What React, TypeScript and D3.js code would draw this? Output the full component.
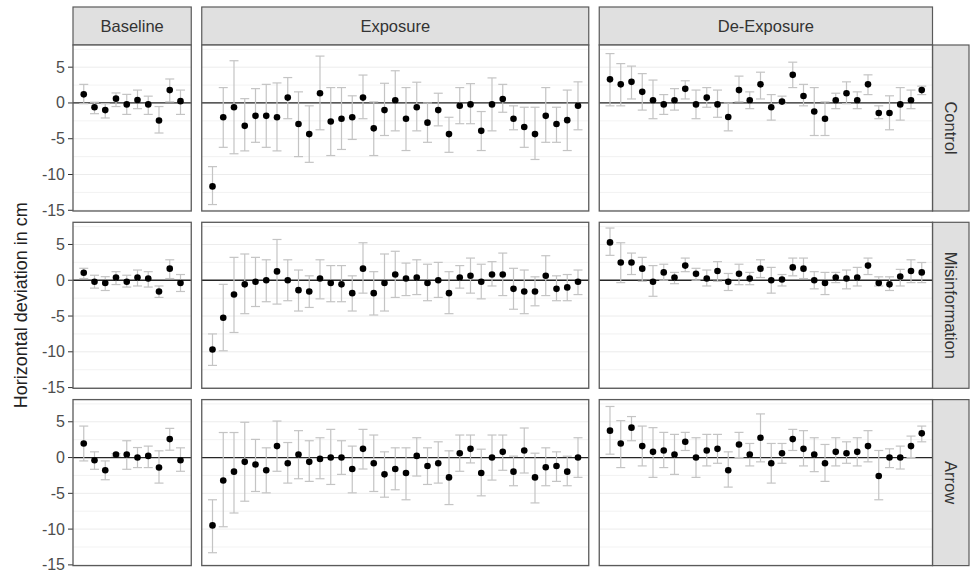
import React from "react";
import * as d3 from "d3";

type Obs = [number, number, number]; // [mean, lower, upper]

const phases = ["Baseline", "Exposure", "De-Exposure"];
const groups = ["Control", "Misinformation", "Arrow"];
const yTicks = [5, 0, -5, -10, -15];
const yGrid = [7.5, 5, 2.5, 0, -2.5, -5, -7.5, -10, -12.5, -15];

const controlBaseline: Obs[] = [
  [1.2, -0.1, 2.6], [-0.6, -1.5, 0.1], [-1.0, -2.1, -0.1], [0.6, -0.5, 1.4], [-0.2, -1.6, 1.2],
  [0.4, -0.8, 1.8], [-0.2, -1.6, 0.95], [-2.45, -4.2, -0.5], [1.8, 0.15, 3.35], [0.25, -1.6, 1.8],
];
const controlExposure: Obs[] = [
  [-11.66, -14.2, -8.9], [-2.0, -6.2, 2.15], [-0.6, -7.1, 5.9], [-3.2, -6.7, 0.6], [-1.8, -5.5, 2.0],
  [-1.8, -6.2, 2.6], [-2.0, -6.7, 2.8], [0.75, -2.2, 3.55], [-2.95, -7.5, 1.55], [-4.35, -8.3, -0.4],
  [1.36, -3.75, 6.55], [-2.6, -7.35, 2.15], [-2.2, -6.5, 2.15], [-2.0, -5.1, 1.0], [0.75, -2.2, 3.9],
  [-3.55, -7.35, 0.15], [-1.0, -4.55, 2.75], [0.37, -3.9, 4.5], [-2.2, -6.65, 2.15], [-0.6, -3.9, 2.9],
  [-2.75, -5.5, 0.0], [-1.0, -3.2, 1.36], [-4.35, -6.9, -2.0], [-0.4, -2.9, 2.15], [-0.2, -2.9, 2.7],
  [-3.9, -6.65, -1.2], [-0.2, -3.9, 3.5], [0.56, -1.3, 2.6], [-2.2, -3.75, -0.4], [-3.37, -6.2, -0.6],
  [-4.35, -7.9, -0.6], [-1.8, -5.5, 2.15], [-2.95, -5.5, -0.6], [-2.4, -6.65, 1.8], [-0.4, -3.75, 2.95],
];
const controlDeExposure: Obs[] = [
  [3.3, -0.4, 6.9], [2.6, -0.4, 5.5], [2.95, 0.56, 5.15], [1.55, -1.0, 4.1], [0.37, -2.2, 3.2],
  [-0.2, -1.6, 1.17], [0.37, -1.0, 2.0], [1.97, 0.56, 3.1], [-0.2, -2.2, 1.8], [0.75, -0.6, 2.15],
  [-0.2, -2.0, 1.8], [-1.97, -3.9, 0.0], [1.8, 0.15, 3.75], [0.37, -0.8, 1.55], [2.6, 0.56, 4.3],
  [-0.6, -2.4, 1.17], [0.19, -0.1, 0.95], [3.93, 2.15, 5.7], [0.98, -0.4, 2.6], [-1.2, -4.55, 2.15],
  [-2.2, -4.55, 0.15], [0.37, -0.8, 1.36], [1.36, -0.1, 2.95], [0.37, -0.8, 1.55], [2.6, 1.17, 3.93],
  [-1.4, -2.2, -0.4], [-1.4, -3.75, 1.0], [-0.2, -2.4, 2.15], [0.37, -0.8, 1.8], [1.8, 1.17, 2.35],
];

const misinfoBaseline: Obs[] = [
  [1.05, 0.24, 1.67], [-0.2, -1.1, 0.7], [-0.38, -1.43, 0.5], [0.38, -0.6, 1.2], [-0.2, -0.95, 0.7],
  [0.38, -0.8, 1.43], [0.24, -0.95, 1.2], [-1.57, -2.4, -0.8], [1.62, 0.24, 2.86], [-0.38, -1.57, 0.8],
];
const misinfoExposure: Obs[] = [
  [-9.67, -11.9, -7.5], [-5.24, -9.86, -0.57], [-2.0, -7.3, 3.2], [-0.57, -4.67, 3.67], [-0.2, -3.67, 3.2],
  [0, -3.0, 2.86], [1.24, -3.33, 5.7], [0, -2.86, 2.86], [-1.38, -4.3, 1.43], [-1.57, -3.8, 0.62],
  [0.24, -2.6, 2.86], [-0.38, -3.0, 2.05], [-0.57, -3.0, 2.05], [-1.8, -4.3, 0.62], [1.62, -1.8, 5.24],
  [-1.8, -4.86, 1.2], [-0.38, -4.3, 3.67], [0.8, -2.4, 4.05], [0.24, -2.14, 2.4], [0.38, -2.0, 2.86],
  [-0.38, -2.86, 2.24], [0, -2.4, 2.5], [-1.8, -4.67, 1.2], [0.38, -1.1, 2.05], [0.62, -1.8, 3.1],
  [-0.2, -2.6, 2.24], [0.8, -0.8, 2.6], [0.8, -2.14, 3.8], [-1.2, -4.05, 1.67], [-1.57, -4.67, 1.43],
  [-1.57, -3.57, 0.48], [0.62, -2.14, 3.43], [-1.2, -2.86, 0.62], [-1.0, -2.86, 0.8], [-0.2, -2.0, 1.43],
];
const misinfoDeExposure: Obs[] = [
  [5.29, 3.48, 7.3], [2.48, -0.33, 5.24], [2.48, 0.8, 3.8], [1.62, -0.14, 3.2], [-0.2, -2.24, 2.05],
  [1.1, 0, 2.24], [0.38, -0.48, 1.1], [2.05, 1.2, 3.1], [0.9, 0, 1.67], [0.24, -0.8, 1.43],
  [1.29, -0.14, 2.6], [-0.2, -1.43, 0.95], [0.9, -0.62, 2.24], [0.24, -0.62, 1.1], [1.62, 0.38, 2.86],
  [0, -1.8, 1.8], [0.1, -0.8, 0.8], [1.8, 0.62, 3.1], [1.62, 0.24, 3.1], [0, -1.2, 1.2],
  [-0.38, -2.0, 1.1], [0.38, -0.33, 1.1], [0.24, -1.2, 1.43], [0.38, -0.8, 1.8], [2.05, 0.8, 3.1],
  [-0.38, -0.8, 0.48], [-0.57, -1.43, 0.48], [0.52, -0.8, 1.52], [1.29, -0.33, 2.86], [1.1, -0.33, 2.48],
];

const arrowBaseline: Obs[] = [
  [1.97, -0.47, 4.4], [-0.38, -1.64, 0.8], [-1.78, -3.1, -0.47], [0.42, 0.19, 0.56], [0.42, -1.64, 2.35],
  [0, -1.4, 1.4], [0.23, -1.4, 1.6], [-1.4, -3.57, 0.94], [2.58, 1.03, 4.08], [-0.38, -1.92, 1.36],
];
const arrowExposure: Obs[] = [
  [-9.48, -13.3, -5.9], [-3.2, -9.67, 3.5], [-1.97, -7.75, 3.5], [-0.6, -6.1, 4.93], [-0.98, -4.74, 2.54],
  [-1.78, -4.93, 1.36], [1.6, -1.92, 5.1], [-0.8, -3.57, 2.1], [0.42, -2.96, 3.76], [-0.6, -3.33, 2.35],
  [-0.19, -2.96, 2.77], [0, -3.76, 3.94], [0, -2.35, 2.35], [-1.6, -4.93, 1.6], [1.22, -1.6, 3.94],
  [-0.8, -4.74, 3.15], [-2.35, -5.54, 0.8], [-1.6, -4.5, 1.36], [-2.16, -5.9, 1.36], [0.23, -2.58, 2.77],
  [-1.17, -3.76, 1.36], [-0.8, -3.57, 2.2], [-2.77, -6.57, 0.94], [0.61, -1.92, 3.15], [1.22, -0.75, 3.15],
  [-2.16, -5.35, 1.17], [0, -3.15, 3.15], [0.8, -1.78, 3.15], [-1.97, -3.94, 0.2], [0.99, -2.16, 4.13],
  [-2.77, -6.34, 0.61], [-1.36, -3.94, 1.36], [-1.17, -3.33, 0.8], [-1.97, -3.94, 0.19], [0, -2.77, 2.77],
];
const arrowDeExposure: Obs[] = [
  [3.76, 0.47, 7.14], [1.97, -1.4, 5.16], [4.18, 2.35, 5.73], [1.6, -1.17, 4.4], [0.8, -2.77, 4.18],
  [0.99, -1.4, 3.52], [0.42, -2.35, 3.24], [2.2, 0.99, 3.52], [0, -2.77, 2.77], [0.99, -1.17, 3.24],
  [1.22, -0.8, 3.24], [-1.78, -4.13, 0.8], [1.83, 0, 3.52], [0.42, -1.17, 1.97], [2.77, -0.6, 6.1],
  [-0.8, -3.57, 1.97], [0.61, -0.8, 1.97], [2.58, 0.99, 3.94], [1.22, -1.17, 3.76], [0.42, -1.97, 2.77],
  [-0.8, -3.33, 1.83], [0.8, -1.17, 2.77], [0.61, -0.8, 2.2], [0.8, -1.17, 2.77], [1.6, -0.6, 3.76],
  [-2.58, -5.9, 0.99], [0, -1.4, 1.22], [0, -1.6, 1.6], [1.6, 0, 3.0], [3.38, 2.2, 4.4],
];

// rows = groups, columns = phases
const panels: Obs[][][] = [
  [controlBaseline, controlExposure, controlDeExposure],
  [misinfoBaseline, misinfoExposure, misinfoDeExposure],
  [arrowBaseline, arrowExposure, arrowDeExposure],
];

const W = 971;
const H = 577;
const plotLeft = 73;
const plotRight = 932.5;
const colGap = 10.5;
const rowTop = 45;
const rowH = 166;
const rowGap = 11.3;
const stripTop = 7;
const stripRight = 969;
const FONT = "'Liberation Sans', Arial, Helvetica, sans-serif";

export default function App() {
  // free x space: each column gets width proportional to its number of trials (+1 unit padding each side)
  const counts = panels[0].map((p) => p.length);
  const units = counts.map((n) => n + 1);
  const totalUnits = d3.sum(units);
  const pxPerUnit = (plotRight - plotLeft - colGap * (counts.length - 1)) / totalUnits;
  let cursor = plotLeft;
  const xScales = counts.map((n, i) => {
    const x0 = cursor;
    const x1 = cursor + units[i] * pxPerUnit;
    cursor = x1 + colGap;
    return d3.scaleLinear().domain([0, n + 1]).range([x0, x1]);
  });
  const yScales = groups.map((_, r) => {
    const top = rowTop + r * (rowH + rowGap);
    return d3.scaleLinear().domain([-15.1, 8.1]).range([top + rowH, top]);
  });

  const border = "#5a5a5a";

  return (
    <svg
      width={W}
      height={H}
      style={{ position: "absolute", left: 0, top: 0, background: "#fff" }}
      fontFamily={FONT}
    >
      <rect x={0} y={0} width={W} height={H} fill="#fff" />

      {/* column strips */}
      {phases.map((ph, c) => {
        const [x0, x1] = xScales[c].range();
        return (
          <g key={ph}>
            <rect x={x0} y={stripTop} width={x1 - x0} height={rowTop - stripTop} fill="#e0e0e0" stroke={border} strokeWidth={1.2} />
            <text x={(x0 + x1) / 2} y={(stripTop + rowTop) / 2} textAnchor="middle" dominantBaseline="central" fontSize={16.5} fill="#333">
              {ph}
            </text>
          </g>
        );
      })}

      {/* row strips */}
      {groups.map((g, r) => {
        const [y1, y0] = yScales[r].range();
        const cx = (plotRight + stripRight) / 2;
        const cy = (y0 + y1) / 2;
        return (
          <g key={g}>
            <rect x={plotRight} y={y0} width={stripRight - plotRight} height={y1 - y0} fill="#e0e0e0" stroke={border} strokeWidth={1.2} />
            <text x={cx} y={cy} transform={`rotate(90, ${cx}, ${cy})`} textAnchor="middle" dominantBaseline="central" fontSize={16.5} fill="#333">
              {g}
            </text>
          </g>
        );
      })}

      {/* panels */}
      {groups.map((g, r) => {
        const y = yScales[r];
        const [yb, yt] = y.range();
        return (
          <g key={g}>
            {/* y axis ticks and labels */}
            {yTicks.map((t) => (
              <g key={t}>
                <line x1={plotLeft - 5} x2={plotLeft} y1={y(t)} y2={y(t)} stroke="#333" strokeWidth={1} />
                <text x={plotLeft - 8} y={y(t)} textAnchor="end" dominantBaseline="central" fontSize={16} fill="#4d4d4d">
                  {t}
                </text>
              </g>
            ))}
            {phases.map((ph, c) => {
              const x = xScales[c];
              const [x0, x1] = x.range();
              const data = panels[r][c];
              return (
                <g key={ph}>
                  <rect x={x0} y={yt} width={x1 - x0} height={yb - yt} fill="#fff" />
                  {yGrid.map((v) => (
                    <line key={v} x1={x0} x2={x1} y1={y(v)} y2={y(v)} stroke="#ececec" strokeWidth={v % 5 === 0 ? 1 : 0.7} />
                  ))}
                  <line x1={x0} x2={x1} y1={y(0)} y2={y(0)} stroke="#262626" strokeWidth={1.3} />
                  {data.map(([m, lo, hi], i) => {
                    const px = x(i + 1);
                    return (
                      <g key={i}>
                        <line x1={px} x2={px} y1={y(lo)} y2={y(hi)} stroke="#c4c4c4" strokeWidth={1.2} />
                        <line x1={px - 4.5} x2={px + 4.5} y1={y(lo)} y2={y(lo)} stroke="#c4c4c4" strokeWidth={1.2} />
                        <line x1={px - 4.5} x2={px + 4.5} y1={y(hi)} y2={y(hi)} stroke="#c4c4c4" strokeWidth={1.2} />
                      </g>
                    );
                  })}
                  {data.map(([m], i) => (
                    <circle key={i} cx={x(i + 1)} cy={y(m)} r={3.3} fill="#000" />
                  ))}
                  <rect x={x0} y={yt} width={x1 - x0} height={yb - yt} fill="none" stroke={border} strokeWidth={1.3} />
                </g>
              );
            })}
          </g>
        );
      })}

      {/* y-axis title */}
      <text
        x={21}
        y={(rowTop + yScales[2].range()[0]) / 2}
        transform={`rotate(-90, 21, ${(rowTop + yScales[2].range()[0]) / 2})`}
        textAnchor="middle"
        dominantBaseline="central"
        fontSize={18}
        fill="#222"
      >
        Horizontal deviation in cm
      </text>
    </svg>
  );
}
